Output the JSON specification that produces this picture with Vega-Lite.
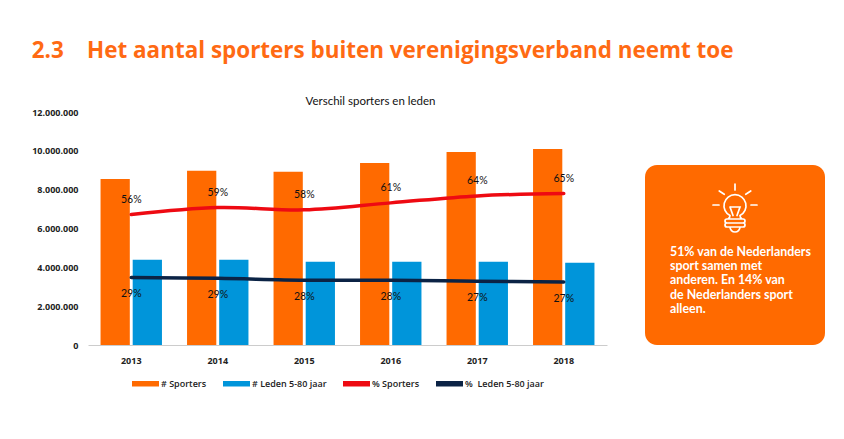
{
"$schema":"https://vega.github.io/schema/vega-lite/v6.json",
"padding":{"left":31,"top":40,"right":10,"bottom":5},
"background":"white",
"title":{"text":"2.3\u00a0\u00a0\u00a0\u00a0Het aantal sporters buiten verenigingsverband neemt toe","anchor":"start","frame":"bounds","font":"Open Sans","fontSize":22.45,"fontWeight":"bold","color":"#FF6A13","offset":33},
"config":{"view":{"stroke":null}},
"spacing":38,
"hconcat":[
{
"width":519,"height":233,
"title":{"text":"Verschil sporters en leden","font":"Lato","fontSize":11.5,"fontWeight":"normal","color":"#111111","anchor":"middle","dx":23,"offset":1},
"layer":[
{
"data":{"values":[
{"jaar":"2013","reeks":"# Sporters","aantal":8550000},
{"jaar":"2013","reeks":"# Leden 5-80 jaar","aantal":4390000},
{"jaar":"2014","reeks":"# Sporters","aantal":8970000},
{"jaar":"2014","reeks":"# Leden 5-80 jaar","aantal":4390000},
{"jaar":"2015","reeks":"# Sporters","aantal":8920000},
{"jaar":"2015","reeks":"# Leden 5-80 jaar","aantal":4290000},
{"jaar":"2016","reeks":"# Sporters","aantal":9370000},
{"jaar":"2016","reeks":"# Leden 5-80 jaar","aantal":4290000},
{"jaar":"2017","reeks":"# Sporters","aantal":9940000},
{"jaar":"2017","reeks":"# Leden 5-80 jaar","aantal":4290000},
{"jaar":"2018","reeks":"# Sporters","aantal":10100000},
{"jaar":"2018","reeks":"# Leden 5-80 jaar","aantal":4240000}
]},
"mark":{"type":"bar"},
"encoding":{
"x":{"field":"jaar","type":"nominal","scale":{"paddingInner":0.29,"paddingOuter":0.145},"axis":{"title":null,"labelAngle":0,"ticks":false,"labelPadding":11,"labelFont":"Open Sans","labelFontSize":9,"labelFontWeight":"bold","labelColor":"#222222","domainColor":"#CCCCCC","grid":false}},
"xOffset":{"field":"reeks","type":"nominal","sort":["# Sporters","# Leden 5-80 jaar"],"scale":{"paddingInner":0.09}},
"y":{"field":"aantal","type":"quantitative","scale":{"domain":[0,12000000],"nice":false},"axis":{"title":null,"values":[0,2000000,4000000,6000000,8000000,10000000,12000000],"grid":false,"domain":false,"ticks":false,"labelPadding":10,"labelExpr":"replace(format(datum.value,','),/,/g,'.')","labelFont":"Open Sans","labelFontSize":9,"labelFontWeight":"bold","labelColor":"#222222"}},
"color":{"field":"reeks","type":"nominal","scale":{"domain":["# Sporters","# Leden 5-80 jaar","% Sporters","%\u00a0 Leden 5-80 jaar"],"range":["#FF6A00","#0095DA","#EE0A12","#0B2345"]},
"legend":{"title":null,"orient":"none","legendX":41,"legendY":255,"direction":"horizontal","symbolType":"stroke","symbolSize":729,"symbolStrokeWidth":5.5,"columnPadding":5,"labelFont":"Open Sans","labelFontSize":9,"labelFontWeight":600,"labelColor":"#222222","labelOffset":-1,"labelLimit":200}}
}
},
{
"data":{"values":[
{"jaar":"2013","reeks":"% Sporters","aandeel":0.56},
{"jaar":"2014","reeks":"% Sporters","aandeel":0.59},
{"jaar":"2015","reeks":"% Sporters","aandeel":0.58},
{"jaar":"2016","reeks":"% Sporters","aandeel":0.61},
{"jaar":"2017","reeks":"% Sporters","aandeel":0.64},
{"jaar":"2018","reeks":"% Sporters","aandeel":0.65},
{"jaar":"2013","reeks":"%\u00a0 Leden 5-80 jaar","aandeel":0.29},
{"jaar":"2014","reeks":"%\u00a0 Leden 5-80 jaar","aandeel":0.286},
{"jaar":"2015","reeks":"%\u00a0 Leden 5-80 jaar","aandeel":0.278},
{"jaar":"2016","reeks":"%\u00a0 Leden 5-80 jaar","aandeel":0.278},
{"jaar":"2017","reeks":"%\u00a0 Leden 5-80 jaar","aandeel":0.274},
{"jaar":"2018","reeks":"%\u00a0 Leden 5-80 jaar","aandeel":0.27}
]},
"encoding":{
"x":{"field":"jaar","type":"nominal"},
"y":{"field":"aandeel","type":"quantitative","scale":{"domain":[0,1],"nice":false},"axis":null}
},
"layer":[
{"mark":{"type":"line","interpolate":"catmull-rom","strokeWidth":3.5,"strokeCap":"round"},
"encoding":{"color":{"field":"reeks","type":"nominal"}}},
{"transform":[{"filter":"datum.reeks === '% Sporters'"}],
"mark":{"type":"text","dy":-15,"font":"Lato","fontSize":10.5,"color":"#111111"},
"encoding":{"text":{"field":"aandeel","type":"quantitative","format":".0%"}}},
{"transform":[{"filter":"datum.reeks !== '% Sporters'"}],
"mark":{"type":"text","dy":17,"font":"Lato","fontSize":10.5,"color":"#111111"},
"encoding":{"text":{"field":"aandeel","type":"quantitative","format":".0%"}}}
]
}
],
"resolve":{"scale":{"y":"independent"}}
},
{
"width":180,"height":233,
"layer":[
{
"data":{"values":[{"paneel":"tip"}]},
"mark":{"type":"rect","color":"#FF6A00","cornerRadius":12},
"encoding":{
"x":{"datum":0,"type":"quantitative","scale":{"domain":[0,180]},"axis":null},
"x2":{"datum":180},
"y":{"datum":53,"type":"quantitative","scale":{"domain":[233,0]},"axis":null},
"y2":{"datum":233}
}
},
{
"data":{"values":[{"icoon":"lamp"}]},
"mark":{"type":"point","filled":false,"opacity":1,"stroke":"white","strokeWidth":1.7,"size":2500,"strokeCap":"round",
"shape":"M0,-0.96L0,-0.72M-0.88,-0.12L-0.64,-0.12M0.64,-0.12L0.88,-0.12M-0.63,-0.68L-0.43,-0.55M0.63,-0.68L0.43,-0.55M-0.2,0.3A0.44,0.44 0 1 1 0.2,0.3C0.2,0.34 0.2,0.38 0.26,0.42M-0.2,0.3C-0.2,0.34 -0.2,0.38 -0.26,0.42M-0.2,-0.04L0.2,-0.04L0.08,0.3M-0.2,-0.04L-0.08,0.3M-0.32,0.44L0.32,0.44M-0.32,0.6L0.32,0.6M-0.2,0.76A0.2,0.2 0 0 0 0.2,0.76M-0.32,0.44A0.08,0.08 0 0 0 -0.32,0.6M0.32,0.44A0.08,0.08 0 0 1 0.32,0.6M-0.32,0.6A0.08,0.08 0 0 0 -0.32,0.76L0.32,0.76A0.08,0.08 0 0 0 0.32,0.6"},
"encoding":{
"x":{"datum":90,"type":"quantitative","scale":{"domain":[0,180]},"axis":null},
"y":{"datum":96,"type":"quantitative","scale":{"domain":[233,0]},"axis":null}
}
},
{
"data":{"values":[
{"regel":1,"tekst":"51% van de Nederlanders"},
{"regel":2,"tekst":"sport samen met"},
{"regel":3,"tekst":"anderen. En 14% van"},
{"regel":4,"tekst":"de Nederlanders sport"},
{"regel":5,"tekst":"alleen."}
]},
"mark":{"type":"text","align":"left","baseline":"middle","font":"Lato","fontSize":12.4,"fontWeight":"bold","color":"white"},
"encoding":{
"x":{"datum":25,"type":"quantitative","scale":{"domain":[0,180]},"axis":null},
"y":{"field":"regel","type":"quantitative","scale":{"domain":[7.53,-8.82],"nice":false,"zero":false},"axis":null},
"text":{"field":"tekst","type":"nominal"}
}
}
],
"resolve":{"scale":{"y":"independent","x":"independent"}}
}
]
}
